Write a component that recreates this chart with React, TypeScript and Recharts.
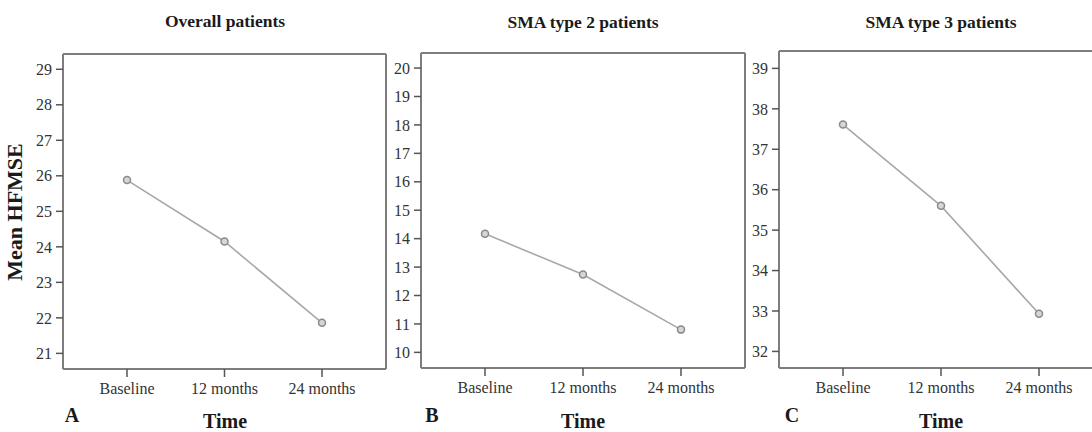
import React from "react";
import { LineChart, Line, XAxis, YAxis } from "recharts";

const timeLabels = ["Baseline", "12 months", "24 months"];
const overallMeans = [25.88, 24.15, 21.86];
const type2Means = [14.17, 12.74, 10.8];
const type3Means = [37.61, 35.6, 32.93];

const overallTicks = [21, 22, 23, 24, 25, 26, 27, 28, 29];
const type2Ticks = [10, 11, 12, 13, 14, 15, 16, 17, 18, 19, 20];
const type3Ticks = [32, 33, 34, 35, 36, 37, 38, 39];

const titles = ["Overall patients", "SMA type 2 patients", "SMA type 3 patients"];
const panelLetters = ["A", "B", "C"];

const FONT = '"Liberation Serif", "Times New Roman", serif';
const BOX = "#7d7d7d";
const TICK_TEXT = { fill: "#333", fontSize: 16, fontFamily: FONT };

const rows = (values: number[]) => timeLabels.map((t, i) => ({ time: t, mean: values[i] }));

type PanelProps = {
  values: number[];
  ticks: number[];
  domain: [number, number];
  left: number;
  width: number;
  margin: { top: number; right: number; bottom: number; left: number };
};

function Panel({ values, ticks, domain, left, width, margin }: PanelProps) {
  return (
    <div style={{ position: "absolute", left, top: 0 }}>
      <LineChart width={width} height={432} data={rows(values)} margin={margin}>
        <XAxis
          dataKey="time"
          type="category"
          height={40}
          padding={{ left: 64, right: 64 }}
          axisLine={{ stroke: BOX, strokeWidth: 2 }}
          tickLine={{ stroke: "#555", strokeWidth: 1.5 }}
          tickSize={8}
          tickMargin={6}
          tick={TICK_TEXT}
          interval={0}
        />
        <XAxis
          xAxisId="top"
          dataKey="time"
          orientation="top"
          height={1}
          tick={false}
          tickLine={false}
          axisLine={{ stroke: BOX, strokeWidth: 2 }}
        />
        <YAxis
          type="number"
          domain={domain}
          ticks={ticks}
          width={40}
          axisLine={{ stroke: BOX, strokeWidth: 2 }}
          tickLine={{ stroke: "#555", strokeWidth: 1.5 }}
          tickSize={7}
          tickMargin={4}
          tick={TICK_TEXT}
          interval={0}
          allowDataOverflow
        />
        <YAxis
          yAxisId="right"
          orientation="right"
          width={1}
          tick={false}
          tickLine={false}
          axisLine={{ stroke: BOX, strokeWidth: 2 }}
        />
        <Line
          type="linear"
          dataKey="mean"
          stroke="#a8a8a8"
          strokeWidth={1.6}
          dot={{ r: 3.5, stroke: "#8a8a8a", strokeWidth: 1.5, fill: "#d6d6d6" }}
          isAnimationActive={false}
        />
      </LineChart>
    </div>
  );
}

const textBase: React.CSSProperties = {
  position: "absolute",
  fontFamily: FONT,
  fontWeight: "bold",
  color: "#1a1a1a",
  whiteSpace: "nowrap",
  lineHeight: 1,
  transform: "translate(-50%, -50%)",
};

export default function App() {
  const titleX = [225, 583, 941];
  const titleY = [22, 23, 23];
  const letterX = [72, 432, 792];
  return (
    <div
      style={{
        position: "absolute",
        left: 0,
        top: 0,
        width: 1092,
        height: 432,
        overflow: "hidden",
        background: "#fff",
      }}
    >
      <Panel
        values={overallMeans}
        ticks={overallTicks}
        domain={[20.56, 29.43]}
        left={0}
        width={392}
        margin={{ top: 53, right: 5, bottom: 23, left: 23 }}
      />
      <Panel
        values={type2Means}
        ticks={type2Ticks}
        domain={[9.45, 20.53]}
        left={380}
        width={372}
        margin={{ top: 52, right: 6, bottom: 24, left: 1 }}
      />
      <Panel
        values={type3Means}
        ticks={type3Ticks}
        domain={[31.59, 39.43]}
        left={738}
        width={372}
        margin={{ top: 50, right: 6, bottom: 24, left: 1 }}
      />
      {titles.map((t, i) => (
        <div key={t} style={{ ...textBase, left: titleX[i], top: titleY[i], fontSize: 17.5 }}>
          {t}
        </div>
      ))}
      {titleX.map((x, i) => (
        <div key={"time" + i} style={{ ...textBase, left: x, top: 421, fontSize: 20 }}>
          Time
        </div>
      ))}
      {panelLetters.map((l, i) => (
        <div key={l} style={{ ...textBase, left: letterX[i], top: 415, fontSize: 20 }}>
          {l}
        </div>
      ))}
      <div
        style={{
          ...textBase,
          left: 15,
          top: 212,
          fontSize: 22,
          transform: "translate(-50%, -50%) rotate(-90deg)",
        }}
      >
        Mean HFMSE
      </div>
    </div>
  );
}
